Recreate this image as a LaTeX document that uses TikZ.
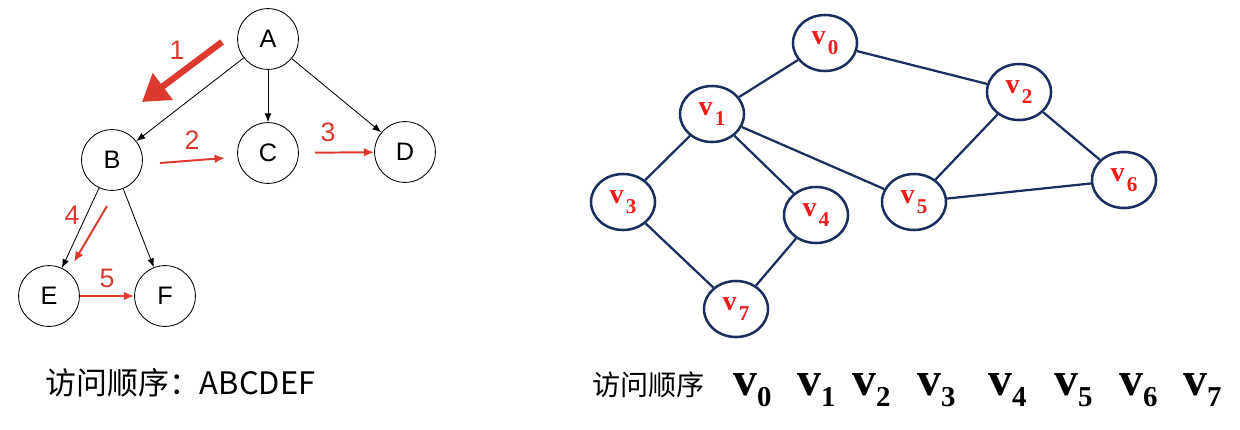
\documentclass[tikz,border=0pt]{standalone}
\usepackage{fontspec}
\setmainfont{Liberation Serif}
\setsansfont{Liberation Sans}
\newfontfamily\cjk{Noto Sans CJK SC}
\usetikzlibrary{arrows.meta,positioning,shapes.geometric}
\definecolor{cNavy}{HTML}{1B2F5E}
\definecolor{cRed}{HTML}{DC3A2E}
\definecolor{cLab}{HTML}{F01A1A}
\tikzset{
  tnode/.style={circle,draw,line width=0.6pt,minimum size=1.52cm,inner sep=0pt,
              font=\sffamily\fontsize{18}{18}\selectfont},
  gnode/.style={ellipse,draw=cNavy,line width=1.8pt,minimum width=1.6cm,
              minimum height=1.4cm,inner sep=0pt,text=cLab},
  tarrow/.style={-{Latex[length=2.2mm,width=1.7mm]},line width=0.6pt},
  redarrow/.style={-{Latex[length=2.6mm,width=2.2mm]},cRed,line width=1.4pt},
  bigred/.style={-{Triangle[length=6.5mm,width=8mm]},cRed,line width=4.5pt},
  gedge/.style={cNavy,line width=1.6pt},
  num/.style={text=cRed,font=\sffamily\fontsize{19}{19}\selectfont},
  caption/.style={anchor=base west,inner sep=0pt,font=\cjk\fontsize{20}{20}\selectfont},
}
\newcommand{\vlab}[1]{{\fontsize{20}{20}\selectfont\textbf{v}}\,\raisebox{-7pt}{\fontsize{15}{15}\selectfont\textbf{#1}}}
\newcommand{\vbig}[1]{{\fontsize{34}{34}\selectfont\textbf{v}}\raisebox{-8.5pt}{\fontsize{20.5}{20.5}\selectfont\textbf{#1}}}

\begin{document}
\begin{tikzpicture}[x=0.025cm,y=-0.025cm]
  \useasboundingbox (0,0) rectangle (1240,429);
  % the tree on the left
  \node[tnode] (A) at (268,39) {A};
  \node[tnode] (B) at (112,160) {B};
  \node[tnode] (C) at (268,153) {C};
  \node[tnode] (D) at (405,152) {D};
  \node[tnode] (E) at (49,296) {E};
  \node[tnode] (F) at (165,296) {F};
  \foreach \s/\t in {A/B,A/C,A/D,B/E,B/F}
    \draw[tarrow] (\s) -- (\t);
  % order of the visit
  \coordinate (p1s) at (222,42);
  \coordinate (p1e) at (142,102);
  \coordinate (p2s) at (160,163);
  \coordinate (p2e) at (225,158);
  \coordinate (p4s) at (107,206);
  \coordinate (p4e) at (74,262);
  \draw[bigred] (p1s) -- (p1e);
  \draw[redarrow] (p2s) -- (p2e);
  \draw[redarrow,shorten <=0.4cm] (C) -- (D);
  \draw[redarrow] (p4s) -- (p4e);
  \draw[redarrow] (E) -- (F);
  \node[num] (n1) at (177,50) {1};
  \node[num] (n2) at (192,140) {2};
  \node[num] (n3) at (328,132) {3};
  \node[num] (n4) at (72,215) {4};
  \node[num] (n5) at (107,278) {5};
  \node[caption,font=\cjk\fontsize{22}{22}\selectfont] (capL) at (45,394) {访问顺序：ABCDEF};

  % the graph on the right
  \node[gnode] (v0) at (825,43) {\vlab{0}};
  \node[gnode] (v1) at (712,114) {\vlab{1}};
  \node[gnode] (v2) at (1019,92) {\vlab{2}};
  \node[gnode] (v3) at (623,202) {\vlab{3}};
  \node[gnode] (v4) at (816,215) {\vlab{4}};
  \node[gnode] (v5) at (914,202) {\vlab{5}};
  \node[gnode] (v6) at (1124,180) {\vlab{6}};
  \node[gnode] (v7) at (736,309) {\vlab{7}};
  \foreach \s/\t in {v0/v1,v0/v2,v1/v3,v1/v4,v1/v5,v2/v5,v2/v6,v5/v6,v3/v7,v4/v7}
    \draw[gedge] (\s) -- (\t);
  \node[caption] (capR) at (592,395) {访问顺序};
  \foreach \i/\x in {0/733,1/797,2/852,3/917,4/988,5/1054,6/1119,7/1183}
    \node[anchor=base west,inner sep=0pt] (o\i) at (\x,395) {\vbig{\i}};
\end{tikzpicture}
\end{document}
